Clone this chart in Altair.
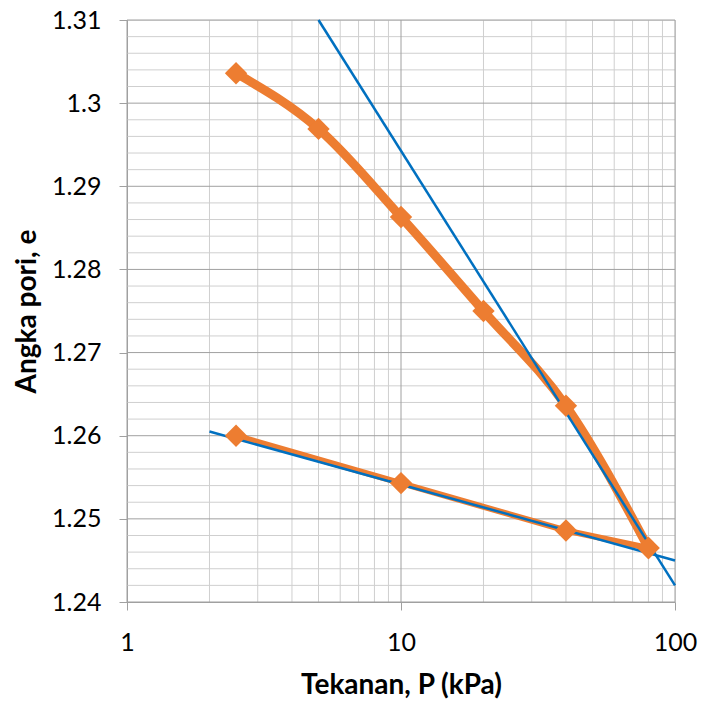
import altair as alt
import pandas as pd

# Oedometer test: void ratio vs. pressure (log scale)
p_load = [2.5, 5, 10, 20, 40, 80]
e_load = [1.3036, 1.2969, 1.2863, 1.2750, 1.2636, 1.2465]

p_unload = [80, 40, 10, 2.5]
e_unload = [1.2465, 1.2486, 1.2543, 1.2600]

# Construction lines (virgin compression and recompression)
steep_p = [5, 100]
steep_e = [1.31, 1.242]
flat_p = [2, 100]
flat_e = [1.2605, 1.2450]

# Gridline positions
x_major = [1, 10, 100]
x_minor = [2, 3, 4, 5, 6, 7, 8, 9, 20, 30, 40, 50, 60, 70, 80, 90]
y_major = [1.24, 1.25, 1.26, 1.27, 1.28, 1.29, 1.30, 1.31]
y_minor = [round(1.24 + 0.002 * i, 3) for i in range(36) if i % 5 != 0]

FONT = "Lato"
ORANGE = "#ED7D31"
BLUE = "#0070C0"

xs = alt.Scale(type="log", domain=[1, 100])
ys = alt.Scale(domain=[1.24, 1.31], zero=False)

x_axis = alt.Axis(
    values=x_major, title="Tekanan, P (kPa)", grid=False, labelFlush=False,
    domainColor="#a0a0a0", tickColor="#a0a0a0", tickSize=8,
    labelFont=FONT, labelFontSize=25, labelColor="#000000", labelPadding=20,
    titleFont=FONT, titleFontSize=28, titleFontWeight="bold", titleColor="#000000",
    titlePadding=16, labelExpr="format(datum.value, '~r')",
)
y_axis = alt.Axis(
    values=y_major, title="Angka pori, e", grid=False,
    domainColor="#a0a0a0", tickColor="#a0a0a0", tickSize=8,
    labelFont=FONT, labelFontSize=25, labelColor="#000000", labelPadding=18,
    titleFont=FONT, titleFontSize=28, titleFontWeight="bold", titleColor="#000000",
    titlePadding=10, labelExpr="format(datum.value, '~r')",
)


def X(field="P"):
    return alt.X(f"{field}:Q", scale=xs, axis=x_axis)


def Y(field="e"):
    return alt.Y(f"{field}:Q", scale=ys, axis=y_axis)


load_df = pd.DataFrame({"P": p_load, "e": e_load, "o": range(len(p_load))})
unload_df = pd.DataFrame({"P": p_unload, "e": e_unload, "o": range(len(p_unload))})
points_df = pd.concat([load_df, unload_df], ignore_index=True)
steep_df = pd.DataFrame({"P": steep_p, "e": steep_e})
flat_df = pd.DataFrame({"P": flat_p, "e": flat_e})

xminor_df = pd.DataFrame({"P": x_minor})
xmajor_df = pd.DataFrame({"P": x_major})
yminor_df = pd.DataFrame({"e": y_minor})
ymajor_df = pd.DataFrame({"e": y_major})

xgrid_minor = alt.Chart(xminor_df).mark_rule(color="#cfcfcf", strokeWidth=1).encode(x=X())
ygrid_minor = alt.Chart(yminor_df).mark_rule(color="#cfcfcf", strokeWidth=1).encode(y=Y())
xgrid_major = alt.Chart(xmajor_df).mark_rule(color="#a0a0a0", strokeWidth=1).encode(x=X())
ygrid_major = alt.Chart(ymajor_df).mark_rule(color="#a0a0a0", strokeWidth=1).encode(y=Y())

load_line = alt.Chart(load_df).mark_line(
    color=ORANGE, strokeWidth=9, interpolate="monotone"
).encode(x=X(), y=Y(), order="o:Q")

unload_line = alt.Chart(unload_df).mark_line(
    color=ORANGE, strokeWidth=6
).encode(x=X(), y=Y(), order="o:Q")

steep_line = alt.Chart(steep_df).mark_line(color=BLUE, strokeWidth=2.5).encode(x=X(), y=Y())
flat_line = alt.Chart(flat_df).mark_line(color=BLUE, strokeWidth=2.5).encode(x=X(), y=Y())

markers = alt.Chart(points_df).mark_point(
    shape="diamond", filled=True, color=ORANGE, size=500, opacity=1
).encode(x=X(), y=Y())

chart = alt.layer(
    xgrid_minor, ygrid_minor, xgrid_major, ygrid_major,
    load_line, unload_line, steep_line, flat_line, markers,
).properties(
    width=548, height=582,
    autosize=alt.AutoSizeParams(type="none"),
    padding={"left": 127, "top": 20, "right": 27, "bottom": 104},
).configure_view(stroke="#a0a0a0", strokeWidth=1).configure(background="white")

chart.save("out.html", embed_options={"renderer": "svg", "actions": False})
